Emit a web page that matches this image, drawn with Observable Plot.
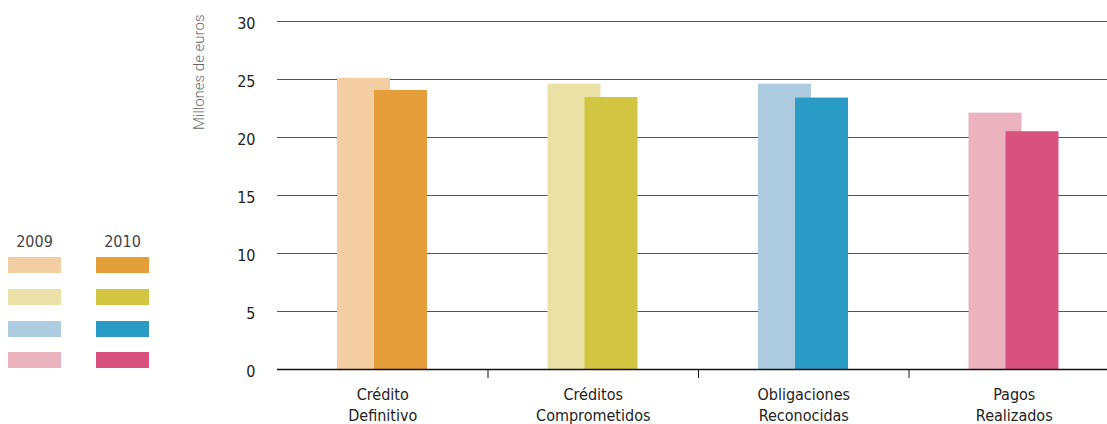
<!DOCTYPE html>
<html>
<head>
<meta charset="utf-8">
<script src="https://cdn.jsdelivr.net/npm/d3@7"></script>
<script src="https://cdn.jsdelivr.net/npm/@observablehq/plot@0.6"></script>
<style>
  html, body { margin: 0; padding: 0; background: #fff; }
  #wrap { position: relative; width: 1107px; height: 424px; overflow: hidden; }
  #legend { position: absolute; left: 0; top: 0; width: 200px; height: 424px; font-family: "DejaVu Sans Condensed", sans-serif; color: #444; }
  #legend .yr { position: absolute; top: 232px; width: 53px; text-align: center; font-size: 16px; }
  #legend .sw { position: absolute; width: 53px; height: 16px; }
</style>
</head>
<body>
<div id="wrap"><div id="chart"></div><div id="legend"></div></div>
<script>
const categories = ["Crédito Definitivo", "Créditos Comprometidos", "Obligaciones Reconocidas", "Pagos Realizados"];
const categoryLabels = ["Crédito\nDefinitivo", "Créditos\nComprometidos", "Obligaciones\nReconocidas", "Pagos\nRealizados"];
const years = ["2009", "2010"];
const values2009 = [25.1, 24.6, 24.6, 22.1];
const values2010 = [24.05, 23.45, 23.4, 20.5];
const colors2009 = ["#F4CEA3", "#EBE1A6", "#AECCE0", "#EBB2BF"];
const colors2010 = ["#E49E3A", "#D2C541", "#2A9BC5", "#D9527F"];
const yTicks = [0, 5, 10, 15, 20, 25, 30];
const yLabel = "Millones de euros";

const rows2009 = categories.map((c, i) => ({category: c, value: values2009[i], color: colors2009[i]}));
const rows2010 = categories.map((c, i) => ({category: c, value: values2010[i], color: colors2010[i]}));

const narrow = '"DejaVu Sans Condensed", sans-serif';
const xRange = [277, 1119];
const band = (xRange[1] - xRange[0]) / categories.length;

const chart = Plot.plot({
  width: 1107,
  height: 424,
  marginLeft: 277,
  marginRight: 0,
  marginTop: 21,
  marginBottom: 55,
  style: {fontFamily: narrow, background: "transparent"},
  x: {domain: categories, range: xRange, padding: 0, round: false, axis: null},
  y: {domain: [0, 30], axis: null},
  marks: [
    Plot.ruleY(yTicks.filter(d => d > 0), {stroke: "#555", strokeWidth: 1}),
    Plot.barY(rows2009, {x: "category", y: "value", fill: "color", insetLeft: 60, insetRight: band - 113}),
    Plot.barY(rows2010, {x: "category", y: "value", fill: "color", insetLeft: 97, insetRight: band - 150}),
    Plot.ruleY([0], {stroke: "#111", strokeWidth: 1.3}),
    Plot.axisY({ticks: yTicks, tickSize: 0, tickPadding: 22, fontSize: 16, dy: 2, fill: "#222", label: null}),
    Plot.axisX({ticks: categories.slice(1), tickSize: 9, dx: -band / 2, tickFormat: () => "", stroke: "#111", label: null}),
    Plot.axisX({tickSize: 0, tickPadding: 16, fontSize: 16, lineHeight: 1.3, fill: "#222",
      tickFormat: d => categoryLabels[categories.indexOf(d)], label: null}),
    Plot.text([yLabel], {frameAnchor: "top-left", dx: -84, dy: -7, rotate: -90, textAnchor: "end",
      fontFamily: "Roboto", fontWeight: 300, fontSize: 15, fill: "#666", text: d => d})
  ]
});
document.getElementById("chart").appendChild(chart);

// legend
const legend = document.getElementById("legend");
const colLeft = [8, 96];
const rowTop = [257, 289, 321, 352];
years.forEach((yr, j) => {
  const t = document.createElement("div");
  t.className = "yr";
  t.style.left = colLeft[j] + "px";
  t.textContent = yr;
  legend.appendChild(t);
  const cols = j === 0 ? colors2009 : colors2010;
  cols.forEach((c, i) => {
    const s = document.createElement("div");
    s.className = "sw";
    s.style.left = colLeft[j] + "px";
    s.style.top = rowTop[i] + "px";
    s.style.background = c;
    legend.appendChild(s);
  });
});
</script>
</body>
</html>
